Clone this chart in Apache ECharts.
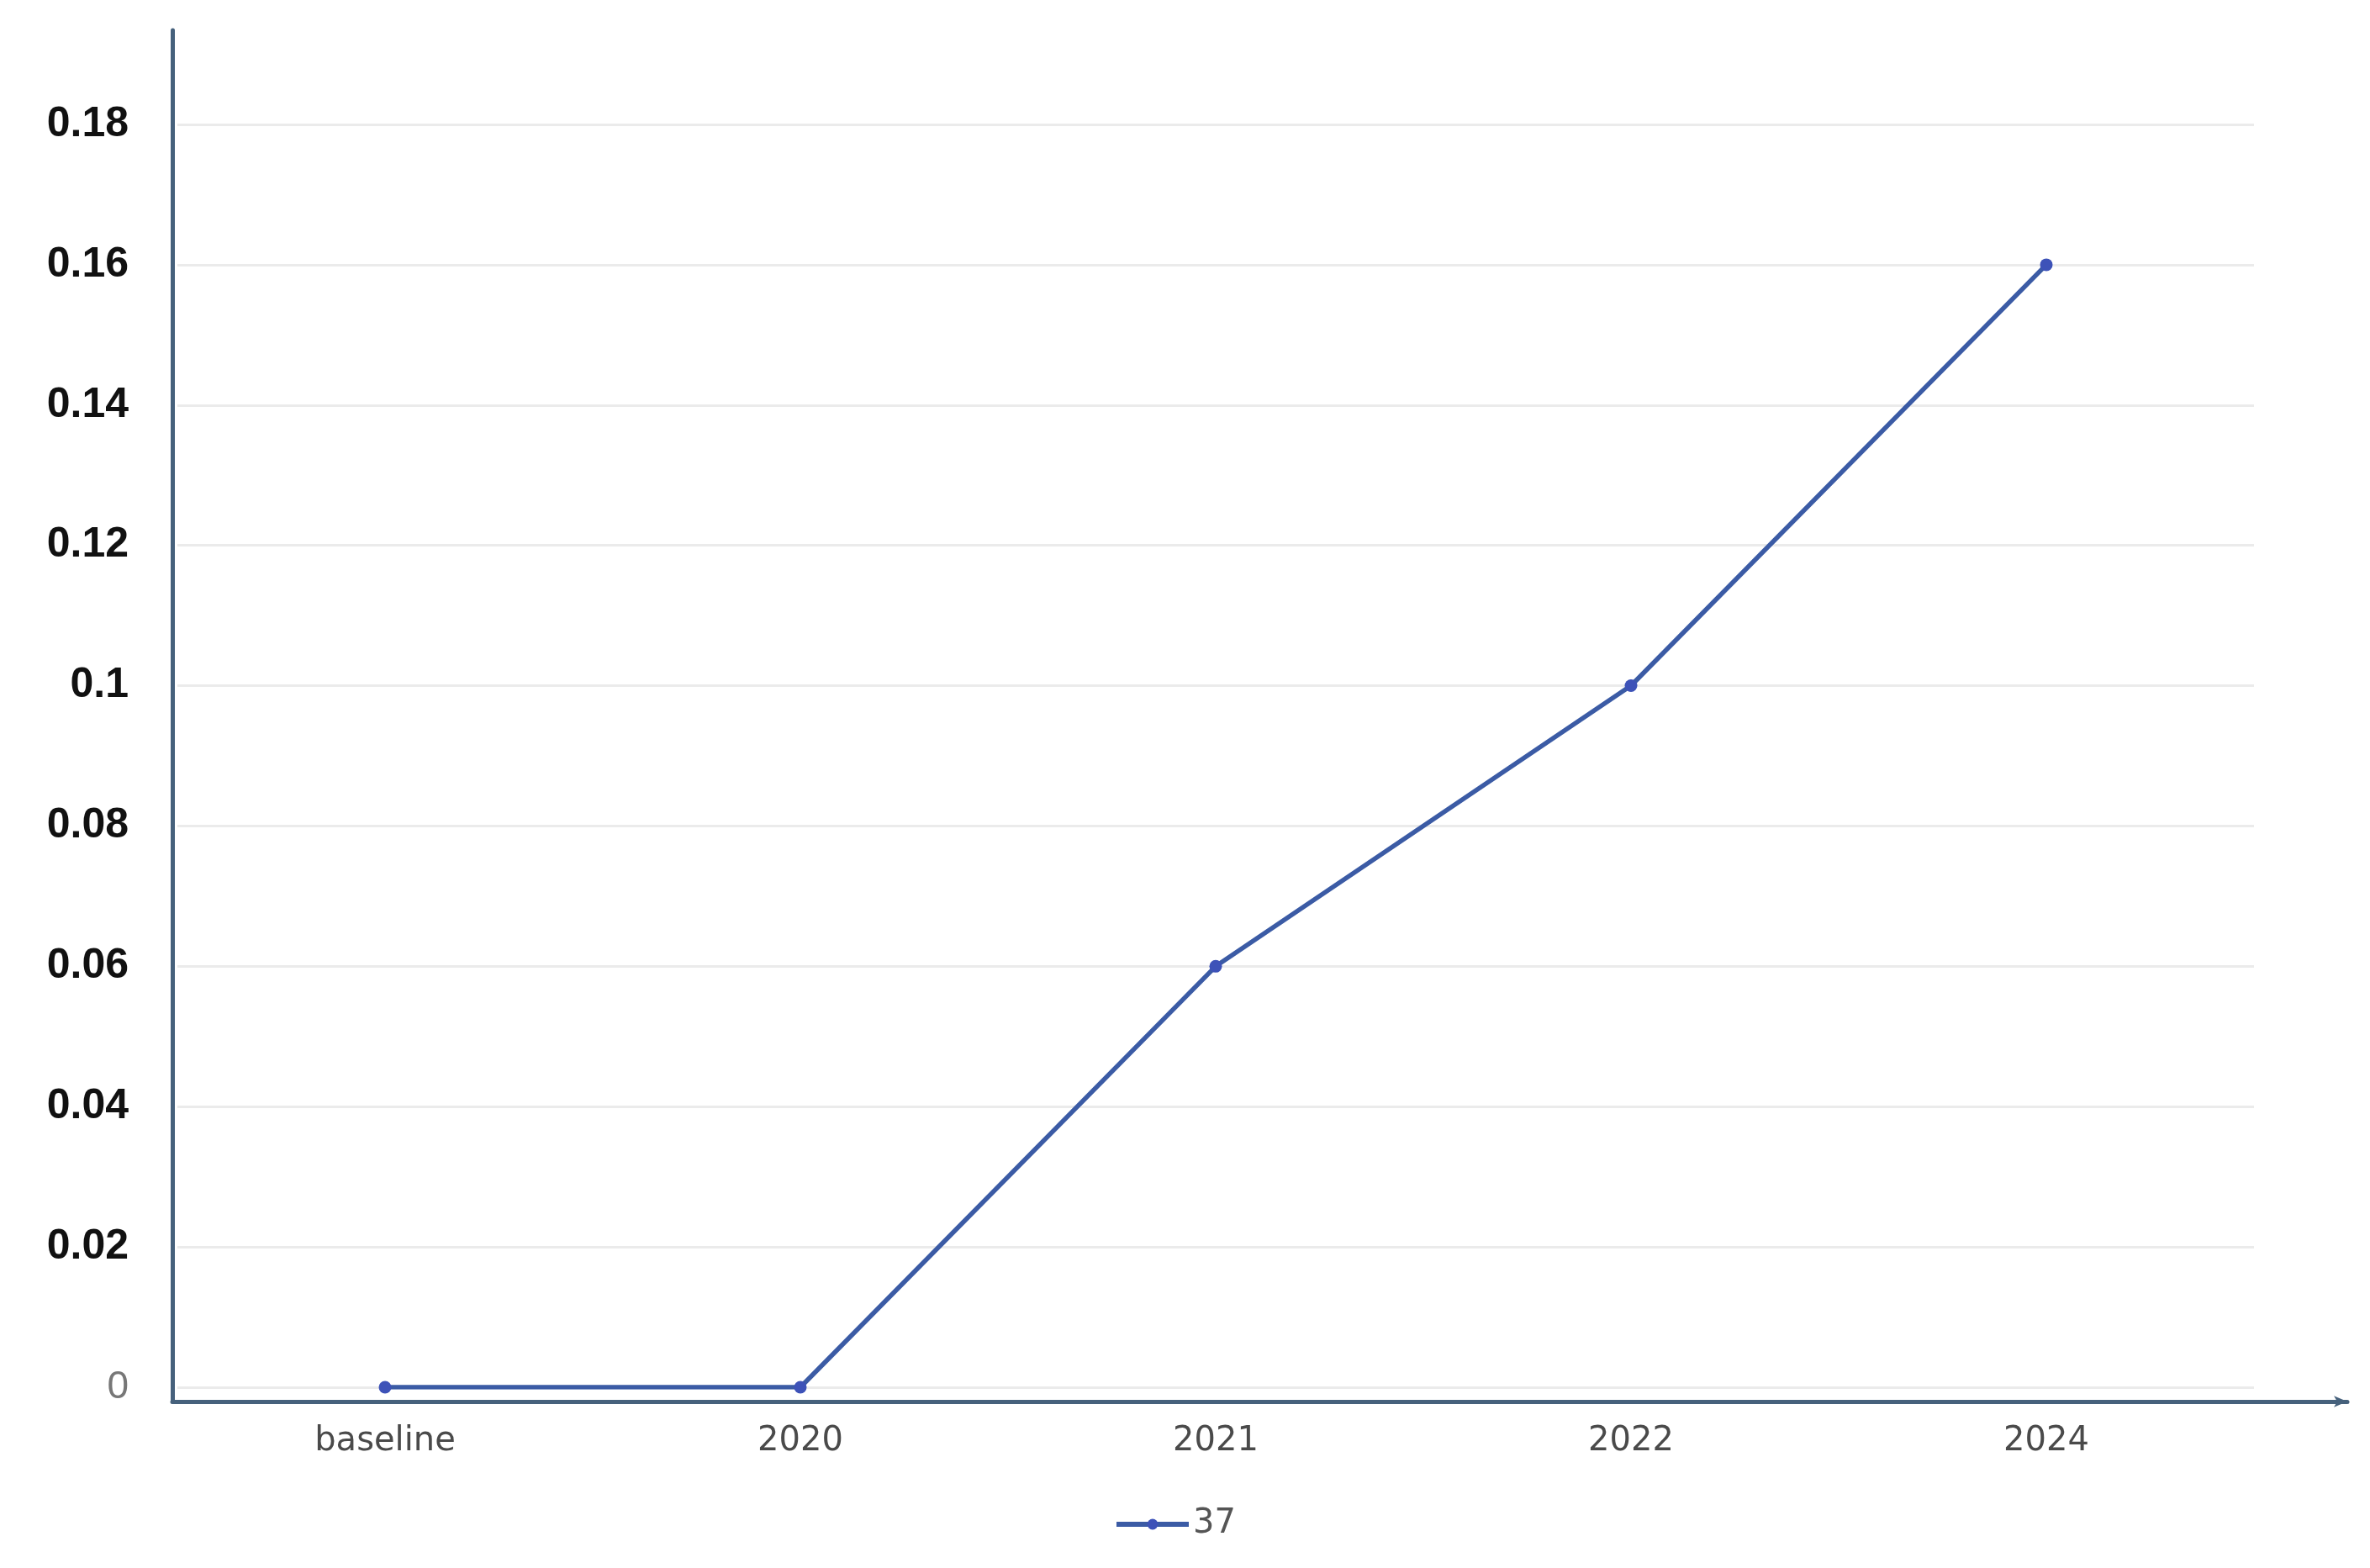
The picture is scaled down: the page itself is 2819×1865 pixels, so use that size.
<!DOCTYPE html>
<html>
<head>
<meta charset="utf-8">
<script src="https://cdn.jsdelivr.net/npm/echarts@6/dist/echarts.min.js"></script>
<style>html,body{margin:0;padding:0;background:#fff}#c{width:2819px;height:1865px}</style>
</head>
<body>
<div id="c"></div>
<script>
var categories = ['baseline', '2020', '2021', '2022', '2024'];
var seriesName = '37';
var values = [0, 0, 0.06, 0.10, 0.16];
var yMin = 0, yMax = 0.18, yStep = 0.02;

var chart = echarts.init(document.getElementById('c'));
chart.setOption({
  backgroundColor: '#ffffff',
  animation: false,
  legend: {
    data: [seriesName],
    left: 1320, top: 1788,
    itemWidth: 86, itemHeight: 16, itemGap: 5,
    lineStyle: { width: 6 },
    textStyle: { fontFamily: 'DejaVu Sans', fontSize: 40, color: '#555' }
  },
  grid: [
    { left: 211, right: 138, top: 148, bottom: 215 },
    { left: 205, right: 27, top: 36, bottom: 198 }
  ],
  xAxis: [
    {
      gridIndex: 0, type: 'category', data: categories, boundaryGap: true,
      offset: 17,
      axisLine: { show: false }, axisTick: { show: false },
      axisLabel: { margin: 28, fontFamily: 'DejaVu Sans', fontSize: 40, color: '#4a4a4a' }
    },
    {
      gridIndex: 1, type: 'value', min: 0, max: 1,
      axisLine: { show: true, onZero: false, symbol: ['none', 'arrow'], symbolSize: [10, 16],
                  lineStyle: { color: '#46617c', width: 5 } },
      axisTick: { show: false }, axisLabel: { show: false }, splitLine: { show: false }
    }
  ],
  yAxis: [
    {
      gridIndex: 0, type: 'value', min: yMin, max: yMax, interval: yStep,
      axisLine: { show: false }, axisTick: { show: false },
      splitLine: { show: true, lineStyle: { color: '#ebebeb', width: 3 } },
      axisLabel: {
        margin: 58,
        fontFamily: 'Liberation Sans', fontSize: 50, fontWeight: 'bold', color: '#111',
        formatter: function (v) {
          if (v === 0) return '{z|0}';
          return String(Math.round(v * 100) / 100);
        },
        rich: { z: { fontFamily: 'Liberation Sans', fontSize: 46, fontWeight: 'normal', color: '#777' } }
      }
    },
    {
      gridIndex: 1, type: 'value', min: 0, max: 1,
      axisLine: { show: true, onZero: false, lineStyle: { color: '#46617c', width: 5 } },
      axisTick: { show: false }, axisLabel: { show: false }, splitLine: { show: false }
    }
  ],
  series: [{
    name: seriesName, type: 'line', xAxisIndex: 0, yAxisIndex: 0,
    data: values,
    symbol: 'circle', symbolSize: 15, showSymbol: true,
    itemStyle: { color: '#3d52b8' },
    lineStyle: { color: '#3b5ba5', width: 5.5 }
  }]
});
</script>
</body>
</html>
